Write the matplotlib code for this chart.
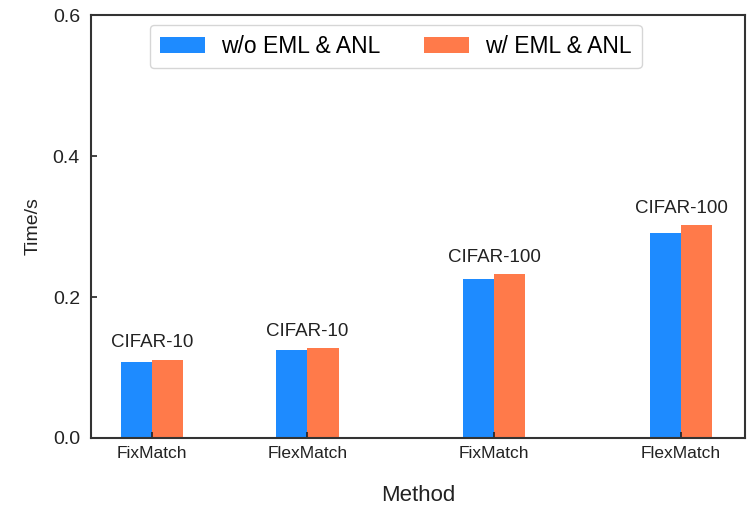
import matplotlib
matplotlib.use("Agg")
import matplotlib.pyplot as plt
import numpy as np

plt.rcParams['font.family'] = ['Liberation Sans', 'DejaVu Sans']

methods = ["FixMatch", "FlexMatch", "FixMatch", "FlexMatch"]
datasets = ["CIFAR-10", "CIFAR-10", "CIFAR-100", "CIFAR-100"]
without_eml_anl = [0.108, 0.125, 0.226, 0.291]
with_eml_anl = [0.111, 0.127, 0.232, 0.302]
series_names = ["w/o EML & ANL", "w/ EML & ANL"]

x = np.array([0.0, 1.0, 2.2, 3.4])
width = 0.2

fig = plt.figure(figsize=(7.56, 5.09), dpi=100)
ax = fig.add_axes([0.1204, 0.1395, 0.865, 0.831])

ax.bar(x - width / 2, without_eml_anl, width, color="#1E8BFF", label=series_names[0])
ax.bar(x + width / 2, with_eml_anl, width, color="#FF7A4A", label=series_names[1])

for xi, a, b, name in zip(x, without_eml_anl, with_eml_anl, datasets):
    ax.text(xi, max(a, b) + 0.012, name, ha="center", va="bottom",
            fontsize=13.5, color="#222222")

ax.set_xlim(-0.39, 3.81)
ax.set_ylim(0, 0.6)
ax.set_yticks([0.0, 0.2, 0.4, 0.6])
ax.set_yticklabels(["0.0", "0.2", "0.4", "0.6"])
ax.set_xticks(x)
ax.set_xticklabels(methods)
ax.tick_params(direction="in", length=4, width=1.2, colors="#222222")
ax.tick_params(axis="x", labelsize=12.5, pad=6)
ax.tick_params(axis="y", labelsize=14, pad=8)
for s in ax.spines.values():
    s.set_linewidth(1.5)
    s.set_color("#333333")

ax.set_xlabel("Method", fontsize=16, labelpad=17, color="#222222")
ax.set_ylabel("Time/s", fontsize=14, labelpad=8, color="#222222")

leg = ax.legend(loc="upper center", ncol=2, fontsize=16.5, frameon=True,
                fancybox=True, handlelength=1.96, handleheight=0.74,
                handletextpad=0.7, columnspacing=1.9, borderpad=0.45,
                borderaxespad=0.0, bbox_to_anchor=(0.466, 0.977))
leg.get_frame().set_edgecolor("#cccccc")
leg.get_frame().set_linewidth(1.0)

fig.savefig("out.png", dpi=100)
